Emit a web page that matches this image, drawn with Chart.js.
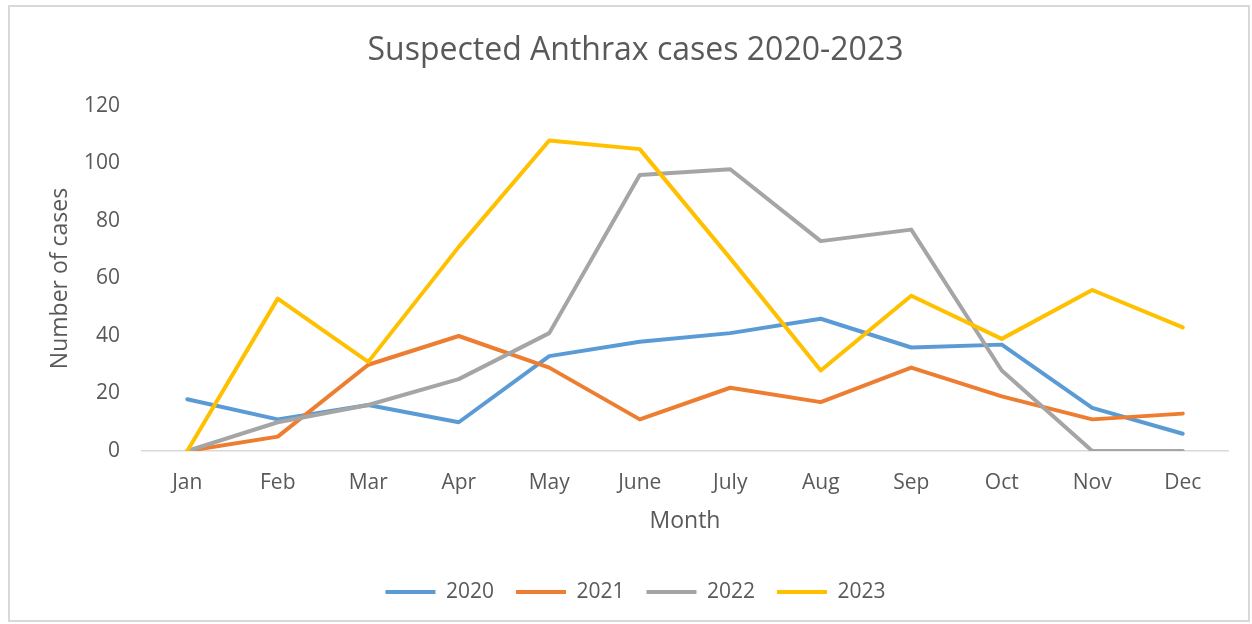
<!DOCTYPE html>
<html>
<head>
<meta charset="utf-8">
<script src="https://cdn.jsdelivr.net/npm/chart.js@4.4.1/dist/chart.umd.min.js"></script>
<style>
  body { margin: 0; background: #fff; }
  #wrap { position: absolute; left: 8px; top: 5px; width: 1238px; height: 613px; border: 2px solid #d9d9d9; }
</style>
</head>
<body>
<div id="wrap"><canvas id="chart" width="1238" height="613"></canvas></div>
<script>
var months = ["Jan", "Feb", "Mar", "Apr", "May", "June", "July", "Aug", "Sep", "Oct", "Nov", "Dec"];
var cases2020 = [18, 11, 16, 10, 33, 38, 41, 46, 36, 37, 15, 6];
var cases2021 = [0, 5, 30, 40, 29, 11, 22, 17, 29, 19, 11, 13];
var cases2022 = [0, 10, 16, 25, 41, 96, 98, 73, 77, 28, 0, 0];
var cases2023 = [0, 53, 31, 71, 108, 105, 67, 28, 54, 39, 56, 43];

var textColor = '#595959';
var fontName = "'Open Sans', sans-serif";

function series(label, data, color, order) {
    return {
        label: label,
        data: data,
        borderColor: color,
        backgroundColor: color,
        borderWidth: 4,
        borderCapStyle: 'round',
        borderJoinStyle: 'round',
        pointRadius: 0,
        pointHoverRadius: 0,
        tension: 0,
        fill: false,
        order: order
    };
}

var ctx = document.getElementById("chart");

var chartGraph = new Chart(ctx, {
    type: 'line',
    data: {
        labels: months,
        datasets: [
            series("2020", cases2020, '#5B9BD5', 3),
            series("2021", cases2021, '#ED7D31', 2),
            series("2022", cases2022, '#A5A5A5', 1),
            series("2023", cases2023, '#FFC000', 0)
        ]
    },
    options: {
        responsive: false,
        animation: false,
        layout: {
            padding: { left: 33, right: 20, top: 2, bottom: 7.5 }
        },
        plugins: {
            title: {
                display: true,
                text: "Suspected Anthrax cases 2020-2023",
                color: textColor,
                font: { family: fontName, size: 32, weight: 'normal' },
                padding: { top: 22.8, bottom: 35.8 }
            },
            legend: {
                position: 'bottom',
                labels: {
                    color: textColor,
                    font: { family: fontName, size: 21 },
                    usePointStyle: true,
                    pointStyle: 'line',
                    pointStyleWidth: 50,
                    padding: 22,
                    sort: function (a, b) { return a.datasetIndex - b.datasetIndex; }
                }
            },
            tooltip: { enabled: false }
        },
        scales: {
            x: {
                offset: true,
                grid: { display: false, drawTicks: false },
                border: { display: true, color: '#d9d9d9', width: 1.5 },
                ticks: {
                    color: textColor,
                    font: { family: fontName, size: 21 },
                    padding: 19,
                    maxRotation: 0
                },
                title: {
                    display: true,
                    text: "Month",
                    color: textColor,
                    font: { family: fontName, size: 23 },
                    padding: { top: 0, bottom: 24.7 }
                },
                afterFit: function (scale) { scale.height = 108.5; }
            },
            y: {
                min: 0,
                max: 120,
                grid: { display: false, drawTicks: false },
                border: { display: false },
                ticks: {
                    stepSize: 20,
                    color: textColor,
                    font: { family: fontName, size: 21 },
                    padding: 22
                },
                title: {
                    display: true,
                    text: "Number of cases",
                    color: textColor,
                    font: { family: fontName, size: 23 },
                    padding: { top: 3.2, bottom: 0 }
                },
                afterFit: function (scale) { scale.width = 99; }
            }
        }
    }
});
</script>
</body>
</html>
